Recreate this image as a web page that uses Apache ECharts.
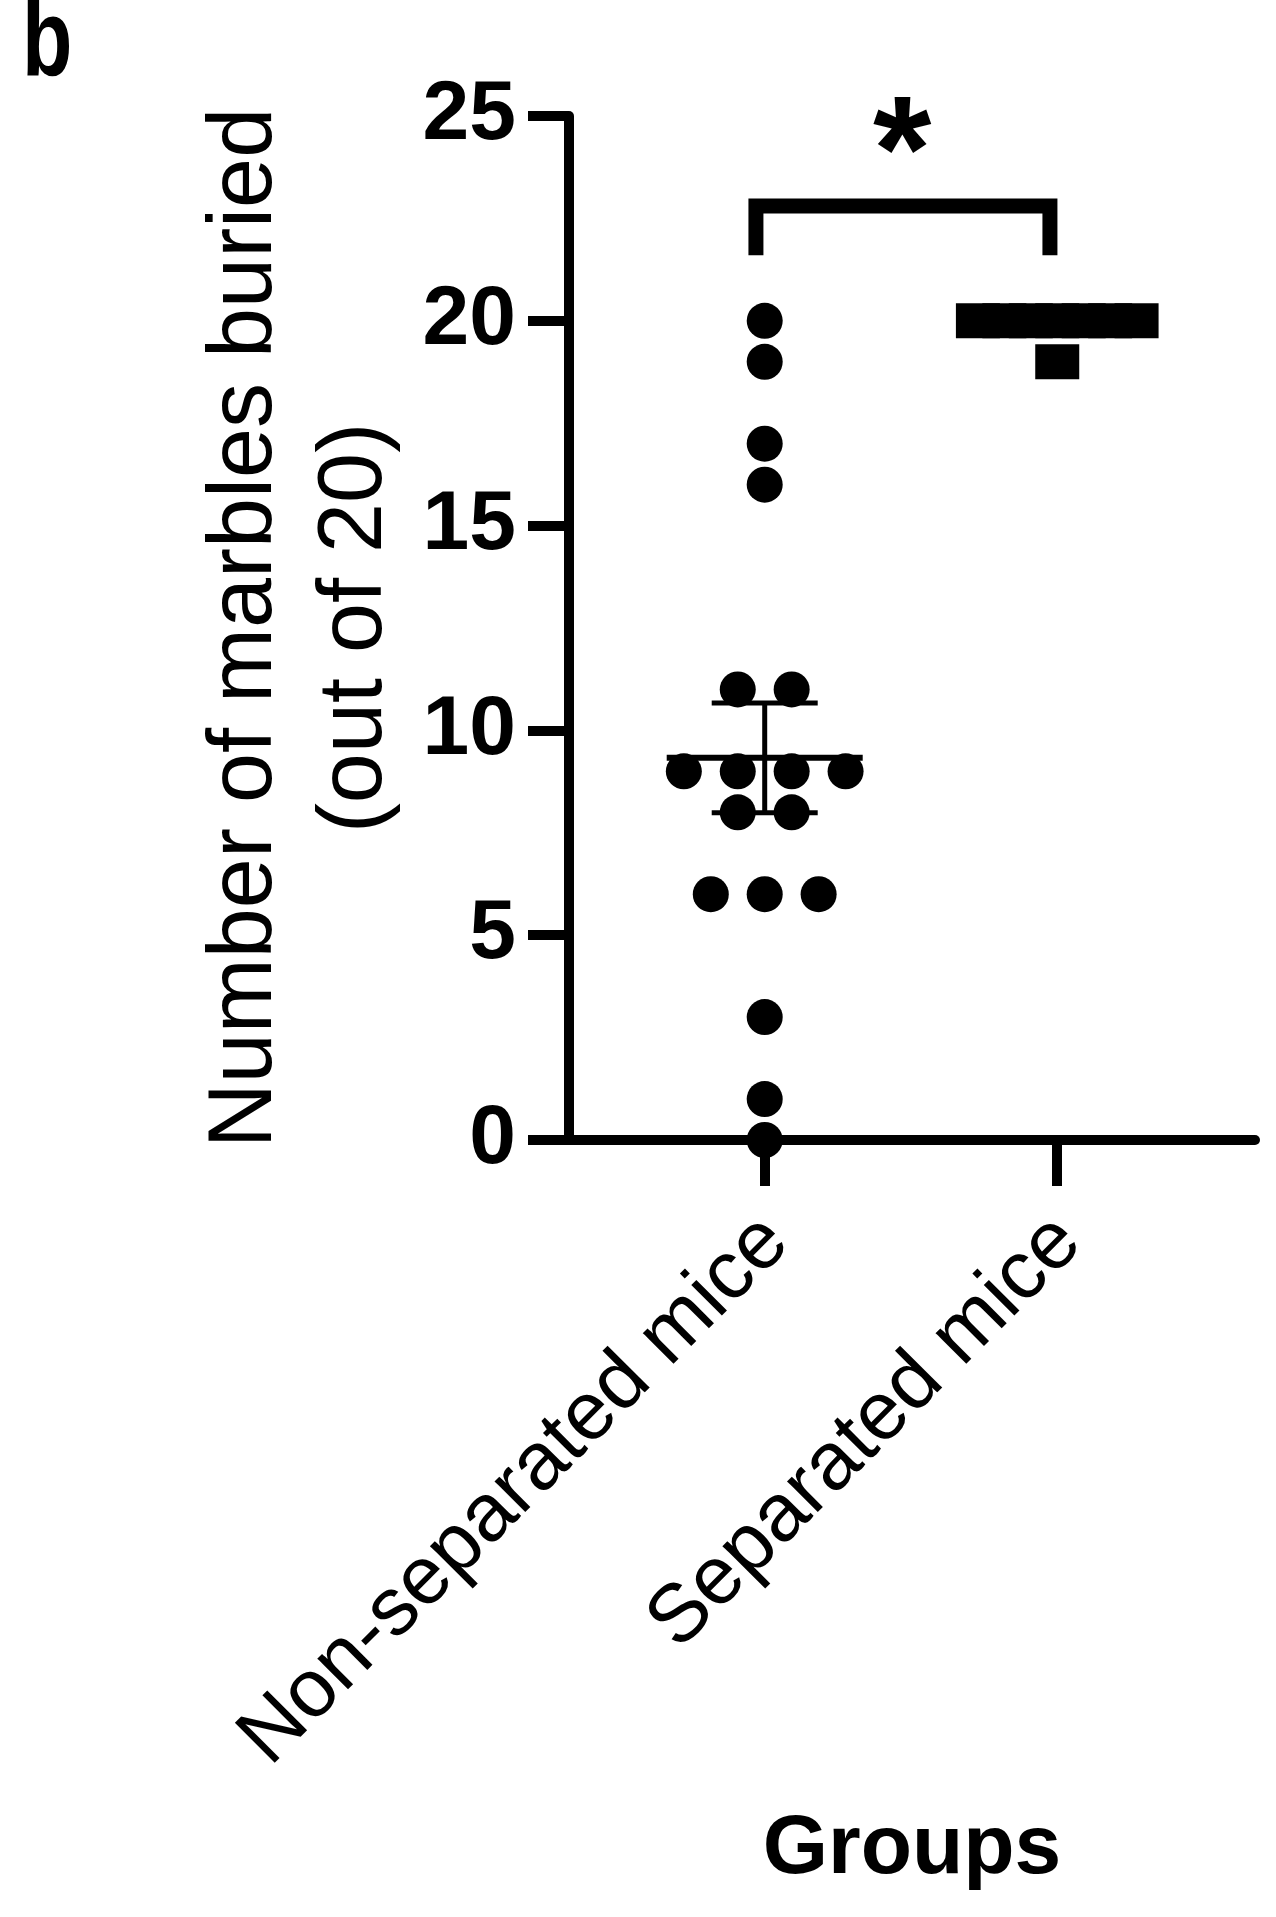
<!DOCTYPE html>
<html>
<head>
<meta charset="utf-8">
<script src="https://cdn.jsdelivr.net/npm/echarts@6/dist/echarts.min.js"></script>
<style>
html,body{margin:0;padding:0;background:#fff;}
#chart{width:1276px;height:1917px;}
</style>
</head>
<body>
<div id="chart"></div>
<script>
// ---- data ----
const categories = ['Non-separated mice', 'Separated mice'];
const nonSeparatedMice = [20, 19, 17, 16, 11, 11, 9, 9, 9, 9, 8, 8, 6, 6, 6, 3, 1, 0];
const separatedMice = [20, 20, 20, 20, 20, 20, 20, 19];
const groupMean = [9.33, 19.88];
const groupSem = [1.34, 0.13];
const yTickValues = [0, 5, 10, 15, 20, 25];
const yAxisTitle = ['Number of marbles buried', '(out of 20)'];
const xAxisTitle = 'Groups';
const panelLabel = 'b';
const significanceMark = '*';
const bracketLevel = 22.8;
const bracketLegEnd = 21.6;
const starLevel = 24.76;

// ---- layout helpers (column-scatter spreading of tied values) ----
function spread(values, center, step) {
  const counts = {}, seen = {};
  values.forEach(v => { counts[v] = (counts[v] || 0) + 1; });
  return values.map(v => {
    const i = seen[v] || 0; seen[v] = i + 1;
    return [center + (i - (counts[v] - 1) / 2) * step, v];
  });
}

const circlePoints = spread(nonSeparatedMice, 1, 0.1843);
const squarePoints = spread(separatedMice, 2, 0.0904);
const summaryData = categories.map((c, i) => [i + 1, groupMean[i], groupMean[i] - groupSem[i], groupMean[i] + groupSem[i]]);
const bracketData = [
  [1 - 0.03, bracketLegEnd], [1 - 0.03, bracketLevel],
  [2 - 0.025, bracketLevel], [2 - 0.025, bracketLegEnd]
];

const FONT = 'Liberation Sans, Arial, sans-serif';
const chart = echarts.init(document.getElementById('chart'), null, {renderer: 'canvas'});

chart.setOption({
  backgroundColor: '#fff',
  animation: false,
  graphic: [{
    type: 'text', x: 22, y: -10, scaleX: 0.75, scaleY: 1,
    style: {text: panelLabel, fontFamily: FONT, fontWeight: 'bold', fontSize: 110, fill: '#000',
      textAlign: 'left', textVerticalAlign: 'top'}
  }],
  grid: {left: 569, right: 21, top: 116, bottom: 777, containLabel: false, outerBoundsMode: 'none'},
  xAxis: {
    type: 'value', min: 0.331, max: 2.676,
    splitLine: {show: false},
    axisLine: {show: true, lineStyle: {color: '#000', width: 10}},
    axisTick: {show: true, customValues: [1, 2], length: 46, lineStyle: {color: '#000', width: 10}},
    axisLabel: {
      show: true, customValues: [1, 2], rotate: 45, margin: 78,
      verticalAlign: 'top', lineHeight: 32,
      formatter: v => categories[Math.round(v) - 1] || '',
      fontFamily: FONT, fontSize: 82, color: '#000'
    },
    name: xAxisTitle, nameLocation: 'middle', nameGap: 668,
    nameTextStyle: {fontFamily: FONT, fontWeight: 'bold', fontSize: 84, color: '#000'}
  },
  yAxis: {
    type: 'value', min: 0, max: 25, interval: 5,
    splitLine: {show: false},
    axisLine: {show: true, lineStyle: {color: '#000', width: 10}},
    axisTick: {show: true, length: 41, lineStyle: {color: '#000', width: 10}},
    axisLabel: {
      margin: 53,
      fontFamily: FONT, fontWeight: 'bold', fontSize: 84, color: '#000',
      formatter: v => yTickValues.includes(v) ? String(v) : ''
    },
    name: yAxisTitle.join('\n'), nameLocation: 'middle', nameGap: 153,
    nameTextStyle: {fontFamily: FONT, fontSize: 90, lineHeight: 110, color: '#000', align: 'center'}
  },
  series: [
    {
      name: categories[0], type: 'scatter', data: circlePoints,
      symbol: 'circle', symbolSize: 36, itemStyle: {color: '#000', opacity: 1}, z: 3
    },
    {
      name: categories[1], type: 'scatter', data: squarePoints,
      symbol: 'rect', symbolSize: [44, 35], itemStyle: {color: '#000', opacity: 1}, z: 3
    },
    {
      type: 'custom', data: summaryData, z: 4,
      renderItem: (params, api) => {
        const c = api.coord([api.value(0), api.value(1)]);
        const lo = api.coord([api.value(0), api.value(2)]);
        const hi = api.coord([api.value(0), api.value(3)]);
        const s = {stroke: '#000', lineWidth: 5};
        return {type: 'group', children: [
          {type: 'line', shape: {x1: c[0] - 98, y1: c[1], x2: c[0] + 98, y2: c[1]}, style: {stroke: '#000', lineWidth: 6}},
          {type: 'line', shape: {x1: c[0], y1: lo[1], x2: c[0], y2: hi[1]}, style: s},
          {type: 'line', shape: {x1: c[0] - 53, y1: lo[1], x2: c[0] + 53, y2: lo[1]}, style: s},
          {type: 'line', shape: {x1: c[0] - 53, y1: hi[1], x2: c[0] + 53, y2: hi[1]}, style: s}
        ]};
      }
    },
    {
      type: 'line', data: bracketData, symbol: 'none', z: 2,
      lineStyle: {color: '#000', width: 15, cap: 'butt', join: 'miter'}
    },
    {
      type: 'scatter', data: [[1.47, starLevel]], symbolSize: 0, z: 5,
      itemStyle: {opacity: 1, color: '#000'},
      label: {show: true, position: 'inside', formatter: significanceMark, offset: [0, 34],
        fontFamily: FONT, fontWeight: 'bold', fontSize: 150, color: '#000', opacity: 1}
    }
  ]
});
</script>
</body>
</html>
